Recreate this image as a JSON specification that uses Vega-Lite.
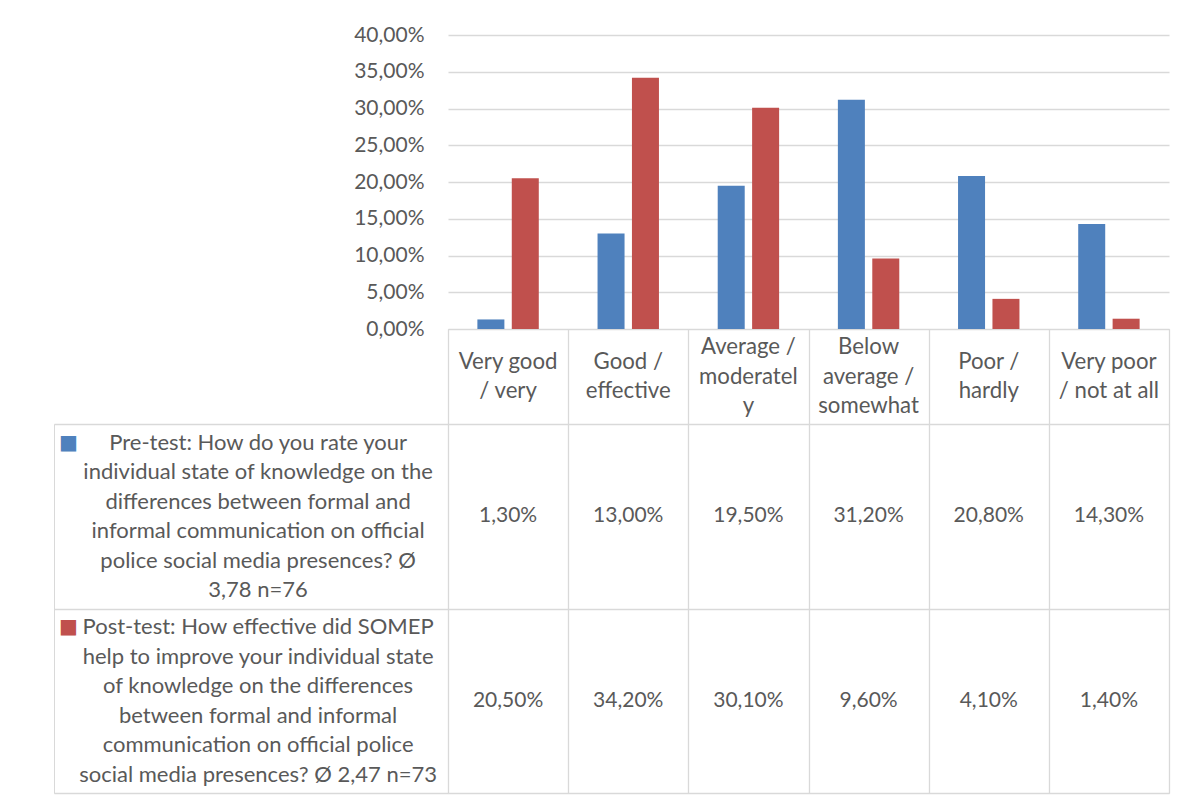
{
  "$schema": "https://vega.github.io/schema/vega-lite/v6.json",
  "background": "white",
  "padding": {"left": 53, "top": 24, "right": 26, "bottom": 10},
  "config": {
    "locale": {"number": {"decimal": ",", "thousands": ".", "grouping": [3], "currency": ["", " €"]}},
    "font": "Lato",
    "view": {"stroke": "#d9d9d9"},
    "text": {"font": "Lato", "fontSize": 21, "fill": "#595959", "lineHeight": 29.5},
    "axis": {"gridColor": "#d9d9d9", "gridWidth": 1.3, "domain": false, "ticks": false, "tickSize": 0, "title": null}
  },
  "datasets": {
    "ratings": [
      {"category": "Very good / very", "label": "Very good\n/ very", "series": "Pre-test", "value": 0.013},
      {"category": "Very good / very", "label": "Very good\n/ very", "series": "Post-test", "value": 0.205},
      {"category": "Good / effective", "label": "Good /\neffective", "series": "Pre-test", "value": 0.13},
      {"category": "Good / effective", "label": "Good /\neffective", "series": "Post-test", "value": 0.342},
      {"category": "Average / moderately", "label": "Average /\nmoderatel\ny", "series": "Pre-test", "value": 0.195},
      {"category": "Average / moderately", "label": "Average /\nmoderatel\ny", "series": "Post-test", "value": 0.301},
      {"category": "Below average / somewhat", "label": "Below\naverage /\nsomewhat", "series": "Pre-test", "value": 0.312},
      {"category": "Below average / somewhat", "label": "Below\naverage /\nsomewhat", "series": "Post-test", "value": 0.096},
      {"category": "Poor / hardly", "label": "Poor /\nhardly", "series": "Pre-test", "value": 0.208},
      {"category": "Poor / hardly", "label": "Poor /\nhardly", "series": "Post-test", "value": 0.041},
      {"category": "Very poor / not at all", "label": "Very poor\n/ not at all", "series": "Pre-test", "value": 0.143},
      {"category": "Very poor / not at all", "label": "Very poor\n/ not at all", "series": "Post-test", "value": 0.014}
    ],
    "questions": [
      {"series": "Pre-test", "label": "Pre-test: How do you rate your\nindividual state of knowledge on the\ndifferences between formal and\ninformal communication on official\npolice social media presences? Ø\n3,78 n=76"},
      {"series": "Post-test", "label": "Post-test: How effective did SOMEP\nhelp to improve your individual state\nof knowledge on the differences\nbetween formal and informal\ncommunication on official police\nsocial media presences? Ø 2,47 n=73"}
    ]
  },
  "columns": 2,
  "spacing": 0,
  "bounds": "flush",
  "concat": [
    {
      "width": 394,
      "height": 294,
      "data": {"values": [{}]},
      "mark": {"type": "text"},
      "encoding": {"text": {"value": ""}},
      "view": {"stroke": null}
    },
    {
      "width": 721,
      "height": 294,
      "data": {"name": "ratings"},
      "mark": {"type": "bar"},
      "encoding": {
        "x": {"field": "category", "type": "nominal", "sort": ["Very good / very", "Good / effective", "Average / moderately", "Below average / somewhat", "Poor / hardly", "Very poor / not at all"], "scale": {"paddingInner": 0, "paddingOuter": 0}, "axis": null},
        "xOffset": {"field": "series", "type": "nominal", "sort": ["Pre-test", "Post-test"], "scale": {"paddingInner": 0.215, "paddingOuter": 0.854}},
        "y": {
          "field": "value",
          "type": "quantitative",
          "scale": {"domain": [0, 0.4]},
          "axis": {
            "values": [0, 0.05, 0.1, 0.15, 0.2, 0.25, 0.3, 0.35, 0.4],
            "format": ".2%",
            "grid": true,
            "labelPadding": 24,
            "labelFont": "Lato",
            "labelFontSize": 21,
            "labelColor": "#595959"
          }
        },
        "color": {"field": "series", "type": "nominal", "scale": {"domain": ["Pre-test", "Post-test"], "range": ["#4f81bd", "#c0504d"]}, "legend": null}
      },
      "view": {"stroke": null}
    },
    {
      "width": 394,
      "height": 95,
      "data": {"values": [{}]},
      "mark": {"type": "text"},
      "encoding": {"text": {"value": ""}},
      "view": {"stroke": null}
    },
    {
      "width": 721,
      "height": 95,
      "data": {"name": "ratings"},
      "transform": [{"filter": "datum.series === 'Pre-test'"}],
      "encoding": {
        "x": {"field": "category", "type": "nominal", "sort": ["Very good / very", "Good / effective", "Average / moderately", "Below average / somewhat", "Poor / hardly", "Very poor / not at all"], "scale": {"paddingInner": 0, "paddingOuter": 0}, "axis": {"labels": false, "grid": true, "tickBand": "extent"}},
        "text": {"field": "label"}
      },
      "layer": [
        {
          "transform": [{"filter": "length(split(datum.label, '\\n')) === 2"}],
          "mark": {"type": "text", "lineBreak": "\n", "fontSize": 22.2, "dy": -14.75}
        },
        {
          "transform": [{"filter": "length(split(datum.label, '\\n')) === 3"}],
          "mark": {"type": "text", "lineBreak": "\n", "fontSize": 22.2, "dy": -29.5}
        }
      ]
    },
    {
      "width": 394,
      "height": 369,
      "data": {"name": "questions"},
      "encoding": {
        "y": {"field": "series", "type": "nominal", "sort": ["Pre-test", "Post-test"], "scale": {"paddingInner": 0, "paddingOuter": 0}, "axis": {"labels": false, "grid": true, "tickBand": "extent"}}
      },
      "layer": [
        {
          "mark": {"type": "text", "lineBreak": "\n", "fontSize": 22, "dy": -73.75},
          "encoding": {
            "x": {"datum": 0.518, "type": "quantitative", "scale": {"domain": [0, 1]}, "axis": null},
            "text": {"field": "label"}
          }
        },
        {
          "mark": {"type": "text", "font": "DejaVu Sans", "fontSize": 20, "dy": -73.75},
          "encoding": {
            "x": {"datum": 0.037, "type": "quantitative", "scale": {"domain": [0, 1]}, "axis": null},
            "text": {"value": "■"},
            "color": {"field": "series", "type": "nominal", "scale": {"domain": ["Pre-test", "Post-test"], "range": ["#4f81bd", "#c0504d"]}, "legend": null}
          }
        }
      ]
    },
    {
      "width": 721,
      "height": 369,
      "data": {"name": "ratings"},
      "mark": {"type": "text"},
      "encoding": {
        "x": {"field": "category", "type": "nominal", "sort": ["Very good / very", "Good / effective", "Average / moderately", "Below average / somewhat", "Poor / hardly", "Very poor / not at all"], "scale": {"paddingInner": 0, "paddingOuter": 0}, "axis": {"labels": false, "grid": true, "tickBand": "extent"}},
        "y": {"field": "series", "type": "nominal", "sort": ["Pre-test", "Post-test"], "scale": {"paddingInner": 0, "paddingOuter": 0}, "axis": {"labels": false, "grid": true, "tickBand": "extent"}},
        "text": {"field": "value", "type": "quantitative", "format": ".2%"}
      }
    }
  ]
}
